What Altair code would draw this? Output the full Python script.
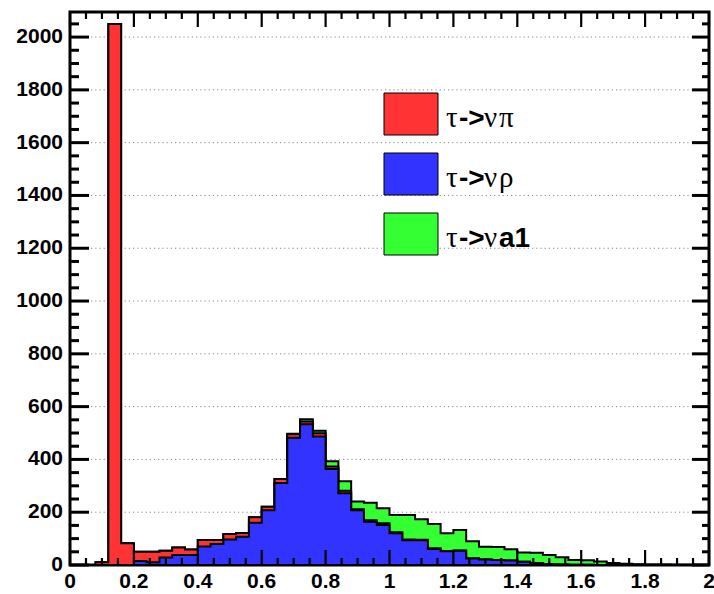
import altair as alt
import pandas as pd

# ---------------- data ----------------
bin_edges_start = 0.0
bin_width = 0.04
n_bins = 50

blue_counts = [0, 0, 0, 0, 0, 15, 10, 28, 38, 38,
               70, 80, 97, 107, 160, 207, 311, 482, 533, 487,
               364, 272, 207, 164, 152, 120, 94, 94, 61, 52,
               54, 25, 21, 19, 17, 12, 8, 4, 2, 1,
               1, 0, 0, 0, 0, 0, 0, 0, 0, 0]
red_counts = [0, 0, 10, 2050, 82, 35, 40, 26, 28, 21,
              25, 15, 20, 14, 21, 14, 15, 13, 11, 12,
              9, 9, 4, 6, 6, 4, 3, 2, 2, 1,
              1, 1, 0, 0, 0, 0, 0, 0, 0, 0,
              0, 0, 0, 0, 0, 0, 0, 0, 0, 0]
green_counts = [0, 0, 0, 0, 0, 0, 0, 0, 0, 0,
                0, 0, 0, 0, 0, 0, 0, 2, 8, 10,
                20, 36, 30, 66, 57, 65, 92, 77, 92, 67,
                78, 64, 48, 49, 43, 35, 38, 34, 27, 18,
                17, 13, 8, 5, 3, 2, 2, 1, 1, 0]

legend_names = ["π", "ρ", "a1"]

x_major = [0, 0.2, 0.4, 0.6, 0.8, 1, 1.2, 1.4, 1.6, 1.8, 2]
x_labels = ["0", "0.2", "0.4", "0.6", "0.8", "1", "1.2", "1.4", "1.6", "1.8", "2"]
x_minor = [round(0.05 * i, 2) for i in range(41) if i % 4 != 0]
y_major = list(range(0, 2001, 200))
y_labels = [str(v) for v in y_major]
y_minor = [v for v in range(0, 2051, 50) if v % 200 != 0]

RED, BLUE, GREEN = "#ff3333", "#3333ff", "#33ff33"
SANS = "Liberation Sans"
SERIF = "Liberation Serif"

W, H = 639, 553

# ---------------- stacked step table ----------------
edges = [round(bin_edges_start + i * bin_width, 2) for i in range(n_bins + 1)]
cum_blue = list(blue_counts)
cum_red = [b + r for b, r in zip(blue_counts, red_counts)]
cum_all = [b + r + g for b, r, g in zip(blue_counts, red_counts, green_counts)]
df = pd.DataFrame({
    "x": edges,
    "blue": cum_blue + [cum_blue[-1]],
    "red": cum_red + [cum_red[-1]],
    "green": cum_all + [cum_all[-1]],
})

xs = alt.Scale(domain=[0, 2], nice=False, zero=False)
ys = alt.Scale(domain=[0, 2095], nice=False)

base = alt.Chart(df)


def area(field, fill):
    return base.mark_area(interpolate="step-after", fill=fill, stroke="black",
                          strokeWidth=2, strokeJoin="miter").encode(
        x=alt.X("x:Q", scale=xs, axis=None),
        y=alt.Y(f"{field}:Q", scale=ys, axis=None),
    )


# horizontal dotted grid
grid_layer = alt.Chart(pd.DataFrame({"gy": y_major})).mark_rule(
    color="#8a8a8a", strokeWidth=1, strokeDash=[1.2, 3]).encode(
    y=alt.Y("gy:Q", scale=ys, axis=None), x=alt.value(0), x2=alt.value(W))

green_layer = area("green", GREEN)
red_layer = area("red", RED)
blue_layer = area("blue", BLUE)


# ---------------- tick marks (inward, ROOT style) ----------------
def y_ticks(values, x_from, x_to, width, key):
    return alt.Chart(pd.DataFrame({key: values})).mark_rule(
        color="#000000", strokeWidth=width).encode(
        y=alt.Y(f"{key}:Q", scale=ys, axis=None), x=alt.value(x_from), x2=alt.value(x_to))


def x_ticks(values, y_from, y_to, width, key):
    return alt.Chart(pd.DataFrame({key: values})).mark_rule(
        color="#000000", strokeWidth=width).encode(
        x=alt.X(f"{key}:Q", scale=xs, axis=None), y=alt.value(y_from), y2=alt.value(y_to))


tick_layers = [
    y_ticks(y_major, 0, 19, 3, "tl"),
    y_ticks(y_minor, 0, 9, 3, "tlm"),
    y_ticks(y_major, W, W - 17, 3, "tr"),
    y_ticks(y_minor, W, W - 7, 3, "trm"),
    x_ticks(x_major, H, H - 15, 2.2, "tb"),
    x_ticks(x_minor, H, H - 7, 2.2, "tbm"),
    x_ticks(x_major, 0, 15, 2.2, "tt"),
    x_ticks(x_minor, 0, 7, 2.2, "ttm"),
]

# ---------------- tick labels ----------------
y_label_layer = alt.Chart(pd.DataFrame({"ly": y_major, "lab": y_labels})).mark_text(
    font=SANS, fontSize=21, fontWeight="bold", color="black", align="right",
    baseline="middle").encode(
    y=alt.Y("ly:Q", scale=ys, axis=None), x=alt.value(-7), text="lab:N")
x_label_layer = alt.Chart(pd.DataFrame({"lx": x_major, "lab": x_labels})).mark_text(
    font=SANS, fontSize=21, fontWeight="bold", color="black", align="center",
    baseline="top").encode(
    x=alt.X("lx:Q", scale=xs, axis=None), y=alt.value(H + 6), text="lab:N")

# ---------------- legend ----------------
legend_layers = []
box_tops = [81, 141, 201]
for name, col, top in zip(legend_names, [RED, BLUE, GREEN], box_tops):
    one = alt.Chart(pd.DataFrame({"label": [name]}))
    legend_layers.append(one.mark_rect(fill=col, stroke="black", strokeWidth=1).encode(
        x=alt.value(314), x2=alt.value(368), y=alt.value(top), y2=alt.value(top + 42)))
    base_y = top + 34
    legend_layers.append(one.mark_text(text="τ", font=SERIF, fontSize=29, align="left",
                                       baseline="alphabetic", color="black").encode(
        x=alt.value(376), y=alt.value(base_y)))
    legend_layers.append(one.mark_text(text="->", font=SANS, fontWeight="bold", fontSize=28,
                                       align="left", baseline="alphabetic", color="black").encode(
        x=alt.value(389), y=alt.value(base_y)))
    legend_layers.append(one.mark_text(text="ν", font=SERIF, fontSize=29, align="left",
                                       baseline="alphabetic", color="black").encode(
        x=alt.value(414), y=alt.value(base_y)))
    if name == "a1":
        legend_layers.append(one.mark_text(font=SANS, fontWeight="bold", fontSize=28,
                                           align="left", baseline="alphabetic", color="black").encode(
            text="label:N", x=alt.value(429), y=alt.value(base_y)))
    else:
        legend_layers.append(one.mark_text(font=SERIF, fontSize=29, align="left",
                                           baseline="alphabetic", color="black").encode(
            text="label:N", x=alt.value(429), y=alt.value(base_y)))

chart = alt.layer(
    grid_layer, green_layer, red_layer, blue_layer,
    y_label_layer, x_label_layer, *legend_layers, *tick_layers
).properties(
    width=W, height=H,
    padding={"left": 70, "top": 12, "right": 5, "bottom": 29},
    autosize=alt.AutoSizeParams(type="none"),
    background="white",
).configure_view(stroke="black", strokeWidth=3)

chart.save("out.html", embed_options={"renderer": "svg", "actions": False})
